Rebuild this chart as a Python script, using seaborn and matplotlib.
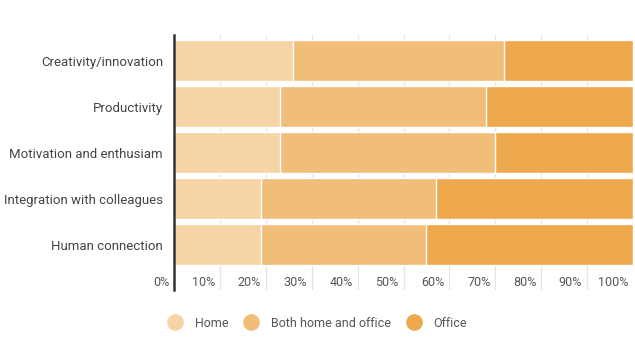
import numpy as np
import pandas as pd
import matplotlib.pyplot as plt
import matplotlib.transforms as mtransforms
from matplotlib.lines import Line2D
import seaborn as sns

# Dados
categories = ["Creativity/innovation", "Productivity", "Motivation and enthusiam",
              "Integration with colleagues", "Human connection"]
home = [26, 23, 23, 19, 19]
both = [46, 45, 47, 38, 36]
office = [28, 32, 30, 43, 45]
series_names = ["Home", "Both home and office", "Office"]
colors = ["#F7D4A6", "#F1BE79", "#EEA94D"]
x_ticks = list(range(0, 101, 10))
x_labels = [f"{t}%" for t in x_ticks]

sns.set_theme(style="white")
plt.rcParams['font.family'] = ['Roboto', 'DejaVu Sans']

df = pd.DataFrame({"cat": categories, "Home": home, "Both": both, "Office": office})
df["c_home"] = df["Home"]
df["c_both"] = df["Home"] + df["Both"]
df["c_office"] = df["c_both"] + df["Office"]

fig = plt.figure(figsize=(6.35, 3.57), dpi=100)
ax = fig.add_axes([174 / 635, 1 - 290 / 357, (633 - 174) / 635, (290 - 35) / 357])

# barras empilhadas: totais acumulados desenhados do maior para o menor
for col, c in zip(["c_office", "c_both", "c_home"], colors[::-1]):
    sns.barplot(data=df, x=col, y="cat", orient="h", color=c, width=0.89,
                saturation=1, ax=ax, zorder=2)

ax.set_xlim(0, 100)
ax.set_ylim(4.978, -0.554)
ax.set_xlabel("")
ax.set_ylabel("")

# grade vertical
for t in x_ticks[1:]:
    ax.axvline(t, color="#E3E3E3", lw=0.9, zorder=1)

for s in ["top", "right", "bottom"]:
    ax.spines[s].set_visible(False)
ax.spines["left"].set_color("#333333")
ax.spines["left"].set_linewidth(1.8)
ax.spines["left"].set_zorder(3)

ax.set_xticks(x_ticks)
ax.set_xticklabels(x_labels)
ax.tick_params(axis="x", length=0, pad=-10, labelsize=9, labelcolor="#555555")
ax.tick_params(axis="y", length=0, pad=8, labelsize=9.5, labelcolor="#444444")
offset = mtransforms.ScaledTranslation(-5 / 100, 0, fig.dpi_scale_trans)
for lab in ax.get_xticklabels():
    lab.set_ha("right")
    lab.set_transform(lab.get_transform() + offset)

handles = [Line2D([], [], marker="o", ls="", markersize=11, markerfacecolor=c,
                  markeredgecolor=c) for c in colors]
leg = fig.legend(handles, series_names, loc="center", bbox_to_anchor=(0.496, 0.095),
                 ncol=3, frameon=False, fontsize=9, handletextpad=0.6, columnspacing=0.8)
for t in leg.get_texts():
    t.set_color("#555555")

fig.savefig("out.png", dpi=100)
